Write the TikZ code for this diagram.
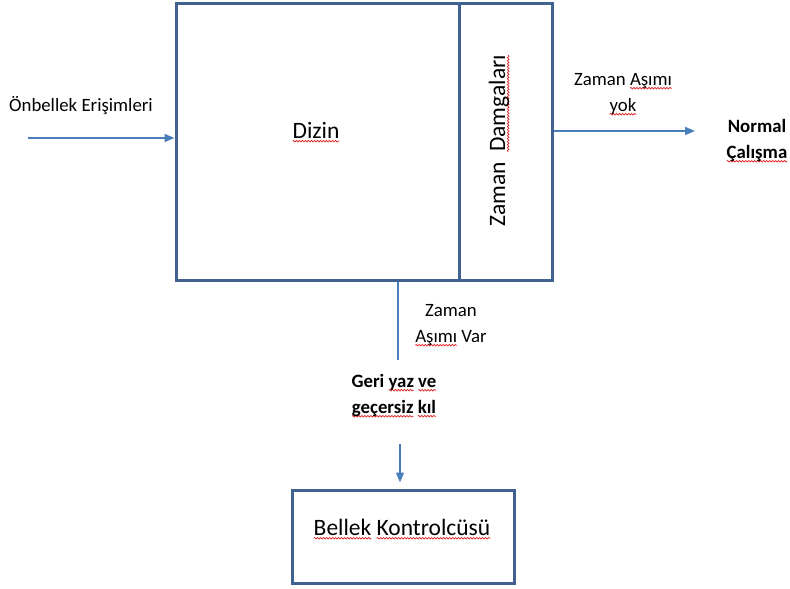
\documentclass[tikz,border=0pt]{standalone}
\usepackage{fontspec}
\setmainfont{Carlito}
\usetikzlibrary{arrows.meta, decorations.pathmorphing}

\definecolor{boxblue}{HTML}{41618F}
\definecolor{arrowblue}{HTML}{4A7EBB}
\definecolor{wavered}{HTML}{E02020}

% red wavy underline, as a spell checker draws it
\newsavebox\wavebox
\newlength\wavewd
\newcommand\spellwave[1]{%
  \sbox\wavebox{#1}\setlength\wavewd{\wd\wavebox}%
  \rlap{\tikz[overlay, x=1pt, y=1pt]
    \draw[wavered, line width=0.7pt, decorate,
          decoration={snake, amplitude=0.8pt, segment length=3pt}]
      (0pt,-3.2pt) -- (\wavewd,-3.2pt);}%
  \usebox\wavebox}

\tikzset{
  panel/.style={draw=boxblue, line width=3pt, rectangle, inner sep=0pt},
  flow/.style={draw=arrowblue, line width=1.5pt, -{Triangle[length=10pt,width=8pt]}},
  plain/.style={draw=arrowblue, line width=1.5pt},
  lbl/.style={inner sep=0pt, align=center, font=\fontsize{18.8}{26}\selectfont},
  bold/.style={lbl, font=\fontsize{18.8}{26}\selectfont\bfseries},
  big/.style={inner sep=0pt, align=center, font=\fontsize{23.5}{28}\selectfont},
}

\begin{document}
\begin{tikzpicture}[x=1pt, y=-1pt]
  \useasboundingbox (0,0) rectangle (790,589);

  % main blocks
  \node[panel, minimum width=283, minimum height=277] (dizin) at (317.5,141.5) {};
  \node[panel, minimum width=93, minimum height=277] (stamps) at (505.5,141.5) {};
  \node[panel, minimum width=222, minimum height=93] (ctrl) at (403,536.5) {};

  % block texts
  \node[big, anchor=base] (dizinText) at (316,138) {\spellwave{Dizin}};
  \node[big, anchor=base, rotate=90] (stampText) at (505,141) {Zaman\ \ \spellwave{Damgaları}};
  \node[big, anchor=base] (ctrlText) at (402,535) {\spellwave{Bellek} \spellwave{Kontrolcüsü}};

  % labels (base anchor of a two-line node sits on its last line)
  \node[lbl, anchor=base west] (access) at (9,111) {Önbellek Erişimleri};
  \node[lbl, anchor=base] (noTimeout) at (623,111) {Zaman \spellwave{Aşımı}\\\spellwave{yok}};
  \node[bold, anchor=base] (normal) at (757,158) {Normal\\\spellwave{Çalışma}};
  \node[lbl, anchor=base] (timeout) at (451,342) {Zaman\\\spellwave{Aşımı} Var};
  \node[bold, anchor=base] (writeBack) at (394,413) {Geri \spellwave{yaz} \spellwave{ve}\\\spellwave{geçersiz} \spellwave{kıl}};

  % free ends of the connectors
  \coordinate (inStart) at (28,138);
  \coordinate (outEnd) at (695,131);
  \coordinate (dropEnd) at (398,360);
  \coordinate (feedStart) at (400,444);

  % connectors
  \draw[flow] (inStart) -- (inStart -| dizin.west);
  \draw[flow] (stamps.east |- outEnd) -- (outEnd);
  \draw[plain] (dizin.south -| dropEnd) -- (dropEnd);
  \draw[flow, shorten >=6pt] (feedStart) -- (feedStart |- ctrl.north);
\end{tikzpicture}
\end{document}
